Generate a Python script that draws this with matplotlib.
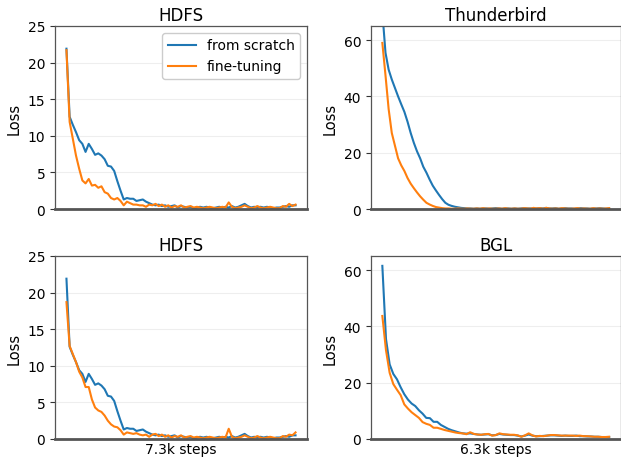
import numpy as np
import matplotlib
matplotlib.use("Agg")
import matplotlib.pyplot as plt

# HDFS (7.3k steps), shared "from scratch" curve
hdfs_scratch = [21.9, 12.6, 11.5, 10.5, 9.4, 8.9, 7.8, 8.9, 8.2, 7.4, 7.6, 7.3, 6.8, 5.9,
                5.8, 5.2, 3.8, 2.5, 1.3, 1.5, 1.4, 1.4, 1.1, 1.2, 1.3, 1.0, 0.8, 0.6,
                0.5, 0.6, 0.4, 0.5, 0.3, 0.4, 0.5, 0.2, 0.4, 0.3,
                0.2, 0.3, 0.1, 0.2, 0.3, 0.2, 0.3, 0.2, 0.1, 0.2,
                0.3, 0.2, 0.3, 0.2, 0.4, 0.2, 0.3, 0.5, 0.7, 0.4,
                0.2, 0.3, 0.2, 0.3, 0.2, 0.3, 0.2, 0.1, 0.2, 0.2,
                0.3, 0.4, 0.3, 0.5, 0.5]
hdfs_finetune_a = [21.7, 11.9, 9.6, 7.3, 5.5, 3.9, 3.5, 4.1, 3.2, 3.3, 2.9, 3.1, 2.3, 2.1,
                   1.5, 1.3, 1.5, 1.1, 0.5, 1.0, 0.8, 0.6, 0.6, 0.5, 0.5, 0.3, 0.6, 0.5,
                   0.7, 0.4, 0.6, 0.3, 0.5, 0.2, 0.4, 0.3, 0.5, 0.2,
                   0.3, 0.4, 0.2, 0.3, 0.2, 0.1, 0.2, 0.3, 0.2, 0.1,
                   0.2, 0.3, 0.2, 0.9, 0.3, 0.1, 0.2, 0.3, 0.5, 0.3,
                   0.1, 0.2, 0.4, 0.2, 0.1, 0.2, 0.3, 0.2, 0.1, 0.1,
                   0.4, 0.3, 0.7, 0.4, 0.6]
hdfs_finetune_b = [18.7, 12.7, 11.6, 10.5, 9.2, 8.4, 7.1, 7.1, 5.4, 4.3, 3.9, 3.7, 3.2, 2.5,
                   2.0, 1.7, 1.6, 1.2, 0.6, 0.9, 0.8, 0.7, 0.8, 0.6, 0.5, 0.6, 0.3, 0.6,
                   0.7, 0.4, 0.6, 0.3, 0.5, 0.2, 0.4, 0.3, 0.5, 0.2,
                   0.3, 0.4, 0.2, 0.3, 0.2, 0.1, 0.2, 0.3, 0.2, 0.1,
                   0.2, 0.3, 0.2, 1.4, 0.3, 0.1, 0.2, 0.3, 0.5, 0.3,
                   0.1, 0.2, 0.4, 0.2, 0.1, 0.2, 0.3, 0.2, 0.1, 0.1,
                   0.4, 0.3, 0.6, 0.5, 0.9]

# Thunderbird
tb_scratch = [70, 55.5, 49.5, 46, 43, 40, 37.2, 34.5, 31, 27, 23.5, 20.5, 18, 15, 12.9,
              10.5, 8.3, 6.6, 5, 3.5, 2.2, 1.5, 1.1, 0.8, 0.6, 0.4, 0.3,
              0.2, 0.2, 0.1, 0.2, 0.1, 0.2, 0.2, 0.1, 0.2, 0.3,
              0.2, 0.1, 0.2, 0.2, 0.1, 0.2, 0.1, 0.2, 0.3, 0.2,
              0.2, 0.1, 0.2, 0.3, 0.2, 0.4, 0.2, 0.2, 0.3, 0.1,
              0.2, 0.3, 0.2, 0.2, 0.1, 0.2, 0.3, 0.2, 0.2, 0.1,
              0.2, 0.2, 0.3, 0.2, 0.1, 0.2]
tb_finetune = [59, 47.5, 35.5, 27, 22.5, 18, 15.5, 13.5, 11, 9, 7.4, 5.9, 4.5, 3.3, 2.2,
               1.6, 1.1, 0.7, 0.5, 0.3, 0.2,
               0.2, 0.1, 0.1, 0.2, 0.1, 0.1, 0.2, 0.1, 0.1, 0.2,
               0.1, 0.3, 0.1, 0.2, 0.1, 0.1, 0.2, 0.1, 0.3, 0.1,
               0.1, 0.2, 0.1, 0.1, 0.3, 0.2, 0.1, 0.4, 0.2, 0.3,
               0.1, 0.4, 0.2, 0.1, 0.2, 0.1, 0.3, 0.2, 0.1, 0.1,
               0.2, 0.3, 0.1, 0.2, 0.1, 0.1, 0.3, 0.1, 0.2, 0.1,
               0.2, 0.3]

# BGL (6.3k steps)
bgl_scratch = [61.5, 35.5, 26.5, 23.1, 21.2, 18.4, 15.9, 14, 12.6, 11.7, 10.2, 9, 7.5,
               7.4, 6.1, 6.1, 5.0, 4.3, 3.6, 3.1, 2.7, 2.3, 2.0, 1.9, 2.0, 1.8,
               1.6, 1.5, 1.6, 1.7, 1.3, 1.4, 1.8, 1.6, 1.5, 1.4, 1.4, 1.2, 0.9, 1.2,
               1.6, 1.2, 1.0, 1.0, 1.1, 1.2, 1.3, 1.3, 1.2, 1.1, 1.2, 1.1, 1.1, 1.2,
               1.0, 1.0, 0.9, 0.9, 0.8, 0.8, 0.7, 0.7, 0.7]
bgl_finetune = [43.7, 31.5, 23.5, 19.5, 17.5, 15.6, 12.3, 10.8, 9.5, 8.5, 7.5, 6.0, 5.4,
                5.0, 4.0, 4.0, 3.6, 3.2, 2.9, 2.6, 2.3, 2.1, 2.0, 1.7, 2.4, 1.8,
                1.6, 1.5, 1.7, 1.8, 1.2, 1.4, 2.0, 1.7, 1.6, 1.5, 1.5, 1.3, 0.8, 1.3,
                2.0, 1.3, 0.9, 1.1, 1.0, 1.2, 1.4, 1.4, 1.3, 1.2, 1.2, 1.2, 1.2, 1.1,
                1.2, 1.0, 1.0, 0.9, 0.8, 0.8, 0.7, 0.7, 0.8]

panels = [
    # title, scratch, finetune, ylim, yticks, xlabel, rect
    ("HDFS", hdfs_scratch, hdfs_finetune_a, 25, [0, 5, 10, 15, 20, 25], None,
     [55, 27, 307, 210]),
    ("Thunderbird", tb_scratch, tb_finetune, 65, [0, 20, 40, 60], None,
     [371, 27, 620.5, 210]),
    ("HDFS", hdfs_scratch, hdfs_finetune_b, 25, [0, 5, 10, 15, 20, 25], "7.3k steps",
     [55, 257, 307, 440]),
    ("BGL", bgl_scratch, bgl_finetune, 65, [0, 20, 40, 60], "6.3k steps",
     [371, 257, 620.5, 440]),
]

W, H = 621, 460
fig = plt.figure(figsize=(W / 100, H / 100), dpi=100)

for i, (title, scratch, fine, ytop, yticks, xlabel, r) in enumerate(panels):
    x0, y0, x1, y1 = r
    ax = fig.add_axes([x0 / W, 1 - y1 / H, (x1 - x0) / W, (y1 - y0) / H])
    ax.plot(np.arange(len(scratch)), scratch, color="#1f77b4", lw=1.5, label="from scratch")
    ax.plot(np.arange(len(fine)), fine, color="#ff7f0e", lw=1.5, label="fine-tuning")
    ax.set_ylim(0, ytop)
    ax.set_yticks(yticks)
    ax.set_xticks([])
    ax.grid(axis="y", color="#eeeeee", lw=0.8)
    ax.set_axisbelow(True)
    for s in ax.spines.values():
        s.set_color("#555555")
        s.set_linewidth(0.9)
    ax.spines["bottom"].set_linewidth(2.0)
    ax.tick_params(axis="y", labelsize=10, length=3.5, color="#333333")
    ax.set_title(title, fontsize=12, pad=4)
    ax.set_ylabel("Loss", fontsize=10.5)
    if xlabel:
        ax.set_xlabel(xlabel, fontsize=10, labelpad=2)
    if i == 0:
        ax.legend(loc="upper right", fontsize=10, framealpha=1, edgecolor="#cccccc")

fig.savefig("out.png", dpi=100)
